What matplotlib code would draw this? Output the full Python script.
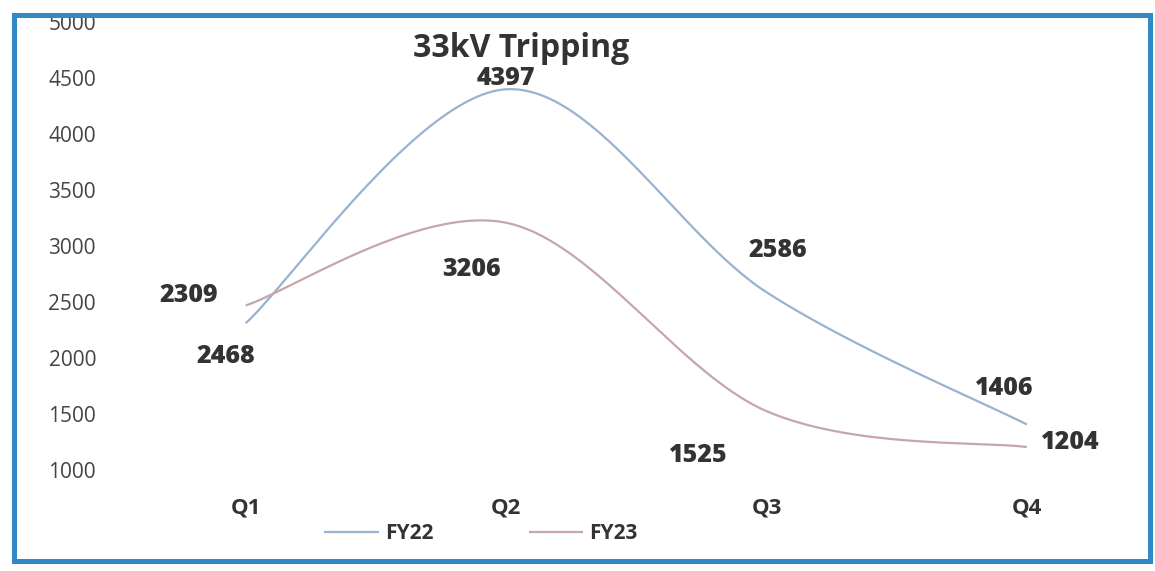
import numpy as np
import matplotlib
matplotlib.use("Agg")
import matplotlib.pyplot as plt
from matplotlib.patches import Rectangle

plt.rcParams['font.family'] = ['Open Sans', 'DejaVu Sans']

quarters = ['Q1', 'Q2', 'Q3', 'Q4']
fy22 = [2309, 4397, 2586, 1406]
fy23 = [2468, 3206, 1525, 1204]
yticks = [1000, 1500, 2000, 2500, 3000, 3500, 4000, 4500, 5000]

# label offsets in points (dx, dy) for each point
off22 = [(-41, 20), (0, 8), (8, 30), (-16, 26)]
off23 = [(-14, -37), (-25, -34), (-49, -32), (31, 3)]

C22 = '#98b3cf'
C23 = '#c6a7a9'
TXT = '#333333'


def smooth(y, n=60):
    # bezier smoothing like office "smoothed line" charts
    x = np.arange(len(y), dtype=float)
    y = np.asarray(y, dtype=float)
    pts = np.column_stack([x, y])
    out = []
    for i in range(len(pts) - 1):
        p0 = pts[i]
        p3 = pts[i + 1]
        prev = pts[i - 1] if i > 0 else pts[i]
        nxt = pts[i + 2] if i + 2 < len(pts) else pts[i + 1]
        p1 = p0 + (p3 - prev) / 6
        p2 = p3 - (nxt - p0) / 6
        t = np.linspace(0, 1, n)[:, None]
        seg = ((1 - t) ** 3) * p0 + 3 * ((1 - t) ** 2) * t * p1 + 3 * (1 - t) * t ** 2 * p2 + t ** 3 * p3
        out.append(seg if i == 0 else seg[1:])
    out = np.vstack(out)
    return out[:, 0], out[:, 1]


fig = plt.figure(figsize=(11.55, 5.71), dpi=100)
ax = fig.add_axes([0.1, 0.177, 0.895, 0.785])

x, y = smooth(fy22)
l1, = ax.plot(x, y, color=C22, lw=1.6, label='FY22', solid_capstyle='butt')
x, y = smooth(fy23)
l2, = ax.plot(x, y, color=C23, lw=1.6, label='FY23', solid_capstyle='butt')

for i, v in enumerate(fy22):
    ax.annotate(str(v), (i, v), xytext=off22[i], textcoords='offset points',
                ha='center', va='center', fontsize=18, fontweight=800, color=TXT)
for i, v in enumerate(fy23):
    ax.annotate(str(v), (i, v), xytext=off23[i], textcoords='offset points',
                ha='center', va='center', fontsize=18, fontweight=800, color=TXT)

ax.set_xlim(-0.5, 3.47)
ax.set_ylim(1000, 5000)
ax.set_yticks(yticks)
ax.set_yticklabels([str(t) for t in yticks], fontsize=15, color='#444444')
ax.set_xticks(range(len(quarters)))
ax.set_xticklabels(quarters, fontsize=16, fontweight='bold', color=TXT)
ax.tick_params(length=0)
ax.tick_params(axis='x', pad=20)
ax.tick_params(axis='y', pad=14)
for s in ax.spines.values():
    s.set_visible(False)

fig.text(0.451, 0.915, '33kV Tripping', ha='center', va='center',
         fontsize=23, fontweight='bold', color=TXT)

fig.legend(handles=[l1, l2], loc='center', bbox_to_anchor=(0.4165, 0.066), ncol=2,
           frameon=False, handlelength=2.6, handletextpad=0.3, columnspacing=4.6,
           prop={'size': 15, 'weight': 'bold'}, labelcolor=TXT)

# outer frame
fig.patches.append(Rectangle((0.012, 0.018), 0.984, 0.955, transform=fig.transFigure,
                             fill=False, edgecolor='#3189c6', lw=3.6))

fig.savefig('out.png', dpi=100)
